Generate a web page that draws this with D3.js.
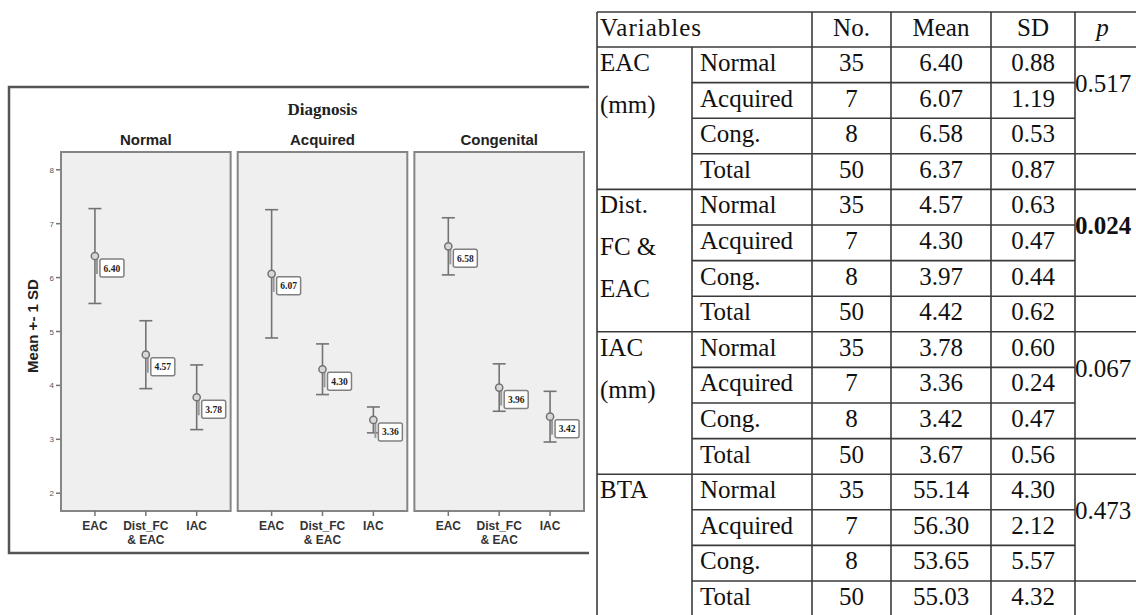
<!DOCTYPE html>
<html><head><meta charset="utf-8">
<script src="https://cdn.jsdelivr.net/npm/d3@7"></script>
<style>body{margin:0;background:#fff}svg{display:block}</style>
</head><body>
<svg id="c" width="1136" height="615"></svg>
<script>
// ---- chart data ----
const diagnoses = ["Normal", "Acquired", "Congenital"];
const measures = ["EAC", "Dist_FC & EAC", "IAC"];
const measureLines = [["EAC"], ["Dist_FC", "& EAC"], ["IAC"]];
const meanNormal = [6.40, 4.57, 3.78];
const sdNormal = [0.88, 0.63, 0.60];
const meanAcquired = [6.07, 4.30, 3.36];
const sdAcquired = [1.19, 0.47, 0.24];
const meanCongenital = [6.58, 3.96, 3.42];
const sdCongenital = [0.53, 0.44, 0.47];
const yTicks = [2, 3, 4, 5, 6, 7, 8];
const yDomain = [1.67, 8.33];

// ---- table data ----
const tableHeader = ["Variables", "No.", "Mean", "SD", "p"];
const tableVars = [["EAC", "(mm)"], ["Dist.", "FC &", "EAC"], ["IAC", "(mm)"], ["BTA"]];
const tableGroups = ["Normal", "Acquired", "Cong.", "Total"];
const tableN = [35, 7, 8, 50];
const meanEAC = ["6.40", "6.07", "6.58", "6.37"];
const sdEAC = ["0.88", "1.19", "0.53", "0.87"];
const meanDist = ["4.57", "4.30", "3.97", "4.42"];
const sdDist = ["0.63", "0.47", "0.44", "0.62"];
const meanIAC = ["3.78", "3.36", "3.42", "3.67"];
const sdIAC = ["0.60", "0.24", "0.47", "0.56"];
const meanBTA = ["55.14", "56.30", "53.65", "55.03"];
const sdBTA = ["4.30", "2.12", "5.57", "4.32"];
const pValues = ["0.517", "0.024", "0.067", "0.473"];
const pBold = [false, true, false, false];

const svg = d3.select("#c");
const grey = "#737373";

// ---------- CHART ----------
const frame = {x0: 9, y0: 87, x1: 589, y1: 553};
svg.append("path")
  .attr("d", `M${frame.x1},${frame.y0}H${frame.x0}V${frame.y1}H${frame.x1}`)
  .attr("fill", "none").attr("stroke", "#555").attr("stroke-width", 2.5);

const panelX = d3.scaleBand().domain(diagnoses).range([61, 584]).paddingInner(0.04);
const y = d3.scaleLinear().domain(yDomain).range([511, 152]);

svg.append("text").attr("x", (61 + 584) / 2).attr("y", 115)
  .attr("text-anchor", "middle").attr("font-family", "Liberation Serif")
  .attr("font-weight", "bold").attr("font-size", 17).attr("fill", "#222").text("Diagnosis");

svg.append("text")
  .attr("transform", `translate(38,326) rotate(-90)`)
  .attr("text-anchor", "middle").attr("font-family", "Liberation Sans")
  .attr("font-weight", "bold").attr("font-size", 15).attr("fill", "#222").text("Mean +- 1 SD");

// y axis ticks
const yAxis = svg.append("g").attr("transform", "translate(61,0)");
yTicks.forEach(t => {
  yAxis.append("line").attr("x1", -5).attr("x2", 0).attr("y1", y(t)).attr("y2", y(t))
    .attr("stroke", grey).attr("stroke-width", 1.5);
  yAxis.append("text").attr("x", -7).attr("y", y(t) + 3).attr("text-anchor", "end")
    .attr("font-family", "Liberation Sans").attr("font-size", 8).attr("fill", "#555").text(t);
});

const panelMeans = [meanNormal, meanAcquired, meanCongenital];
const panelSDs = [sdNormal, sdAcquired, sdCongenital];

diagnoses.forEach((dg, pi) => {
  const x0 = panelX(dg), w = panelX.bandwidth();
  const g = svg.append("g");
  g.append("rect").attr("x", x0).attr("y", y(yDomain[1])).attr("width", w)
    .attr("height", y(yDomain[0]) - y(yDomain[1]))
    .attr("fill", "#efefef").attr("stroke", "#858585").attr("stroke-width", 2);
  g.append("text").attr("x", x0 + w / 2).attr("y", 145).attr("text-anchor", "middle")
    .attr("font-family", "Liberation Sans").attr("font-weight", "bold")
    .attr("font-size", 15).attr("fill", "#222").text(dg);

  const x = d3.scalePoint().domain(measures).range([x0, x0 + w]).padding(0.667);
  measures.forEach((m, mi) => {
    const cx = x(m);
    g.append("line").attr("x1", cx).attr("x2", cx).attr("y1", y(yDomain[0])).attr("y2", y(yDomain[0]) + 5)
      .attr("stroke", grey).attr("stroke-width", 1.5);
    measureLines[mi].forEach((ln, li) => {
      g.append("text").attr("x", cx).attr("y", 530 + li * 14).attr("text-anchor", "middle")
        .attr("font-family", "Liberation Sans").attr("font-weight", "bold")
        .attr("font-size", 12).attr("fill", "#333").text(ln);
    });
    const mu = panelMeans[pi][mi], sd = panelSDs[pi][mi];
    const yt = y(mu + sd), yb = y(mu - sd), ym = y(mu);
    g.append("line").attr("x1", cx).attr("x2", cx).attr("y1", yt).attr("y2", yb)
      .attr("stroke", grey).attr("stroke-width", 1.6);
    [yt, yb].forEach(yy => g.append("line").attr("x1", cx - 6.5).attr("x2", cx + 6.5)
      .attr("y1", yy).attr("y2", yy).attr("stroke", grey).attr("stroke-width", 1.6));
    // label box
    const bx = cx + 5, by = ym + 3, bw = 24, bh = 18;
    g.append("line").attr("x1", cx + 2).attr("x2", cx + 2).attr("y1", ym).attr("y2", by + bh - 3)
      .attr("stroke", "#999").attr("stroke-width", 2);
    g.append("rect").attr("x", bx).attr("y", by).attr("width", bw).attr("height", bh)
      .attr("rx", 2).attr("fill", "#fff").attr("stroke", "#808080").attr("stroke-width", 1.5);
    g.append("text").attr("x", bx + bw / 2).attr("y", by + bh / 2 + 3.5).attr("text-anchor", "middle")
      .attr("font-family", "Liberation Serif").attr("font-weight", "bold")
      .attr("font-size", 9.5).attr("fill", "#222").text(d3.format(".2f")(mu));
    g.append("circle").attr("cx", cx).attr("cy", ym).attr("r", 3.6)
      .attr("fill", "#d8d8d8").attr("stroke", grey).attr("stroke-width", 1.5);
  });
});

// ---------- TABLE ----------
svg.append("rect").attr("x", 592).attr("y", 0).attr("width", 544).attr("height", 615).attr("fill", "#fff");
const colX = [597, 692, 812, 891, 991, 1075, 1150];
const headerTop = 12, headerBottom = 47;
const rowY = d3.scaleLinear().domain([0, 16]).range([headerBottom, headerBottom + 16 * 35.6]);
const tMeans = [meanEAC, meanDist, meanIAC, meanBTA];
const tSDs = [sdEAC, sdDist, sdIAC, sdBTA];
const tg = svg.append("g").attr("font-family", "Liberation Serif").attr("fill", "#111");
const lineCol = "#3a3a3a";
function hline(x1, x2, yy) {
  tg.append("line").attr("x1", x1).attr("x2", x2).attr("y1", yy).attr("y2", yy)
    .attr("stroke", lineCol).attr("stroke-width", 1.6);
}
function vline(xx, y1, y2) {
  tg.append("line").attr("x1", xx).attr("x2", xx).attr("y1", y1).attr("y2", y2)
    .attr("stroke", lineCol).attr("stroke-width", 1.6);
}
const fs = 25;
// header
hline(colX[0], colX[6], headerTop);
hline(colX[0], colX[6], headerBottom);
tg.append("text").attr("x", 600).attr("y", 36).attr("font-size", fs).attr("letter-spacing", 1).text(tableHeader[0]);
[1, 2, 3].forEach(i => tg.append("text").attr("x", (colX[i + 1] + colX[i + 2]) / 2).attr("y", 36)
  .attr("text-anchor", "middle").attr("font-size", fs).text(tableHeader[i]));
tg.append("text").attr("x", (colX[5] + colX[6] - 20) / 2).attr("y", 36).attr("text-anchor", "middle")
  .attr("font-size", fs).attr("font-style", "italic").text(tableHeader[4]);

tableVars.forEach((lines, vi) => {
  const top = rowY(vi * 4);
  lines.forEach((ln, li) => tg.append("text").attr("x", 600).attr("y", top + 24 + li * 42)
    .attr("font-size", fs).text(ln));
  tableGroups.forEach((grp, gi) => {
    const ry = rowY(vi * 4 + gi);
    tg.append("text").attr("x", 700).attr("y", ry + 24).attr("font-size", fs).text(grp);
    tg.append("text").attr("x", (colX[2] + colX[3]) / 2).attr("y", ry + 24).attr("text-anchor", "middle")
      .attr("font-size", fs).text(tableN[gi]);
    tg.append("text").attr("x", (colX[3] + colX[4]) / 2).attr("y", ry + 24).attr("text-anchor", "middle")
      .attr("font-size", fs).text(tMeans[vi][gi]);
    tg.append("text").attr("x", (colX[4] + colX[5]) / 2).attr("y", ry + 24).attr("text-anchor", "middle")
      .attr("font-size", fs).text(tSDs[vi][gi]);
    if (gi > 0 && gi < 3) hline(colX[1], colX[5], ry);
    if (gi === 3) hline(colX[1], colX[6], ry);
  });
  tg.append("text").attr("x", 1075).attr("y", top + 45).attr("font-size", fs)
    .attr("font-weight", pBold[vi] ? "bold" : "normal").text(pValues[vi]);
  hline(colX[0], colX[6], rowY(vi * 4 + 4));
});
// vertical lines
vline(colX[0], headerTop, 615);
[2, 3, 4, 5].forEach(i => vline(colX[i], headerTop, 615));
vline(colX[1], headerBottom, 615);
</script>
</body></html>
